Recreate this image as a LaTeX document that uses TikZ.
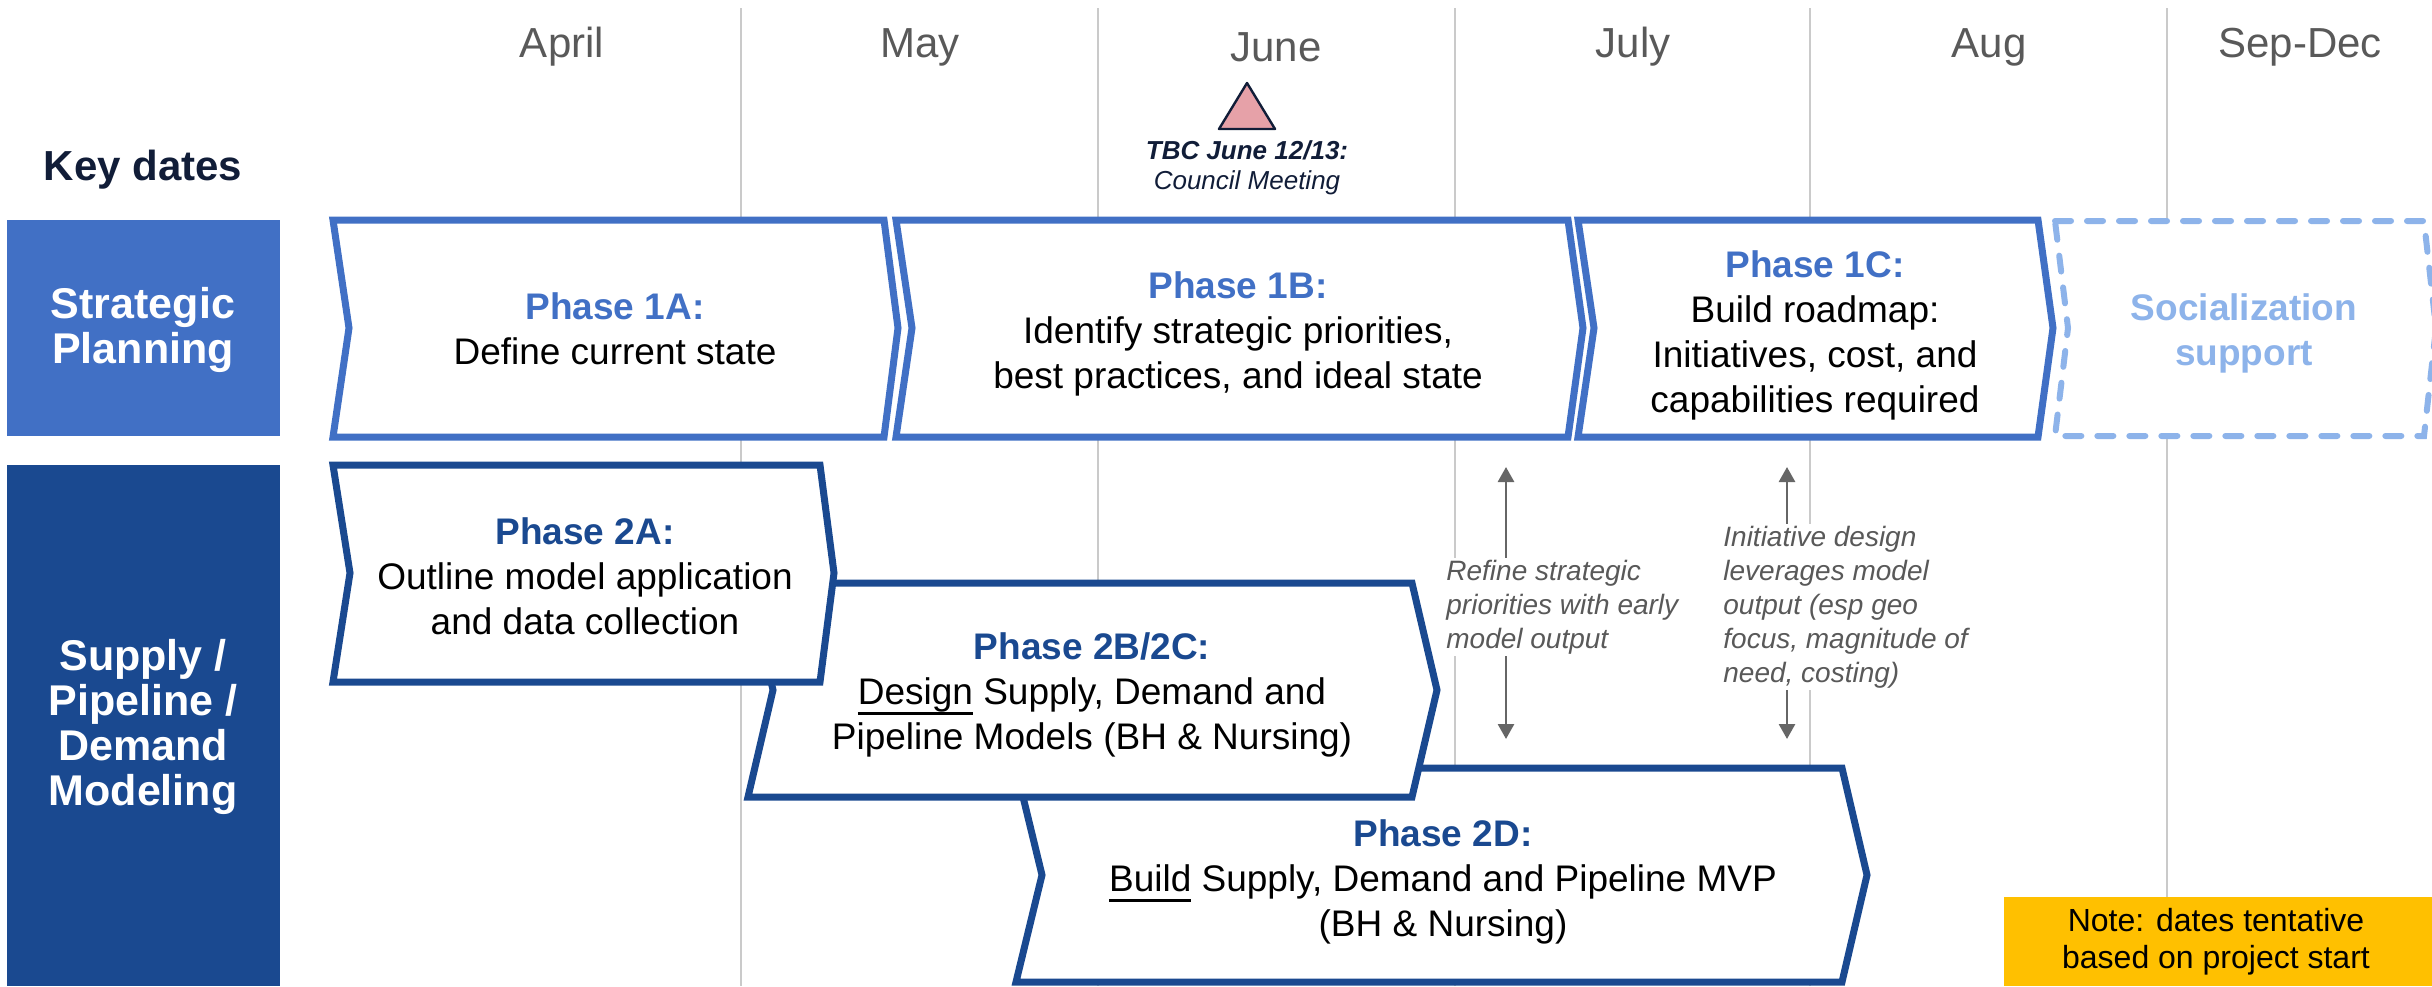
\documentclass[tikz,border=0pt]{standalone}
\usepackage{fontspec}
\setmainfont{Liberation Sans}
\usepackage{xcolor}
\usetikzlibrary{arrows.meta}

\definecolor{stratblue}{HTML}{4170C5}
\definecolor{modelblue}{HTML}{1A4990}
\definecolor{sociallight}{HTML}{8DB3EA}
\definecolor{monthgray}{HTML}{595959}
\definecolor{gridgray}{HTML}{CACACA}
\definecolor{keynavy}{HTML}{111D38}
\definecolor{milestone}{HTML}{E6A1A8}
\definecolor{notegold}{HTML}{FFC000}
\definecolor{arrowgray}{HTML}{666666}

% thick underline as in the slide
\newcommand{\heavyul}[1]{\setbox0\hbox{#1}\rlap{\rule[-5pt]{\wd0}{1.4pt}}\box0\relax}

\begin{document}
\begin{tikzpicture}[x=0.5pt,y=0.5pt,yscale=-1,xscale=1,
  month/.style={text=monthgray,font=\fontsize{21}{25}\selectfont},
  rowhead/.style={text=white,align=center,font=\bfseries\fontsize{21.5}{22.5}\selectfont},
  stratchev/.style={draw=stratblue,fill=white,line width=3.5pt},
  modelchev/.style={draw=modelblue,fill=white,line width=3.5pt},
  socialchev/.style={draw=sociallight,fill=white,line width=3pt,line cap=round,dash pattern=on 8pt off 8pt},
  phasetext/.style={align=center,font=\fontsize{18.5}{22.5}\selectfont},
  sidenote/.style={align=left,text=monthgray,fill=white,inner xsep=0pt,inner ysep=1pt,font=\itshape\fontsize{14}{17}\selectfont},
  gridline/.style={draw=gridgray,line width=1pt},
  linkarrow/.style={draw=arrowgray,line width=1.4pt,-{Triangle[length=7.5pt,width=8pt]}}]
\useasboundingbox (0,0) rectangle (2432,986);

%Straight Lines: month grid
\foreach \gx in {741,1098,1455,1810,2167}
  \draw [gridline] (\gx,8) -- (\gx,986) ;

% Text Node: months
\node [month] (april) at (562,47) {April};
\node [month] (may) at (920,47) {May};
\node [month] (june) at (1276,47) {June};
\node [month] (july) at (1633,47) {July};
\node [month] (aug) at (1989,47) {Aug};
\node [month] (sepdec) at (2300,47) {Sep-Dec};

% Text Node
\node [text=keynavy,font=\bfseries\fontsize{21}{24}\selectfont] (keydates) at (143,170) {Key dates};

%Shape: Triangle (milestone)
\draw [draw=keynavy,fill=milestone,line width=1.2pt,line join=round] (1247,83) -- (1275,129) -- (1219,129) -- cycle ;
% Text Node
\node [text=keynavy,font=\bfseries\itshape\fontsize{13}{16}\selectfont] (tbc) at (1247,150) {TBC June 12/13:};
\node [text=keynavy,font=\itshape\fontsize{13}{16}\selectfont] (council) at (1247,183) {Council Meeting};

%Shape: Rectangle (row headers)
\fill [stratblue] (7,220) rectangle (280,436) ;
\fill [modelblue] (7,465) rectangle (280,986) ;
\node [rowhead] (strategic) at (143,330) {Strategic\\Planning};
\node [rowhead] (supply) at (143,727) {Supply /\\Pipeline /\\Demand\\Modeling};

%Shape: Chevrons, strategic planning
\draw [stratchev] (333,220) -- (884,220) -- (898,328) -- (884,437) -- (333,437) -- (349,328) -- cycle ;
\draw [stratchev] (896,220) -- (1568,220) -- (1583,328) -- (1568,437) -- (896,437) -- (912,328) -- cycle ;
\draw [stratchev] (1578,220) -- (2038,220) -- (2053,328) -- (2038,437) -- (1578,437) -- (1594,328) -- cycle ;
\draw [socialchev] (2055,221) -- (2424,221) -- (2436,328) -- (2424,436) -- (2055,436) -- (2068,328) -- cycle ;

% Text Node
\node [phasetext] (phaseoneA) at (615,329) {\textcolor{stratblue}{\textbf{Phase 1A:}}\\Define current state};
\node [phasetext] (phaseoneB) at (1238,334) {\textcolor{stratblue}{\textbf{Phase 1B:}}\\Identify strategic priorities,\\best practices, and ideal state};
\node [phasetext] (phaseoneC) at (1815,335) {\textcolor{stratblue}{\textbf{Phase 1C:}}\\Build roadmap:\\Initiatives, cost, and\\capabilities required};
\node [phasetext,text=sociallight,font=\bfseries\fontsize{18.5}{22.5}\selectfont] (social) at (2244,333) {Socialization\\support};

%Shape: Chevrons, modeling
\draw [modelchev] (1016,768) -- (1842,768) -- (1867,875) -- (1842,982) -- (1016,982) -- (1042,875) -- cycle ;
\draw [modelchev] (748,583) -- (1412,583) -- (1437,690) -- (1412,797) -- (748,797) -- (773,690) -- cycle ;
\draw [modelchev] (333,465) -- (820,465) -- (834,573) -- (820,682) -- (333,682) -- (350,573) -- cycle ;

% Text Node
\node [phasetext] (phasetwoA) at (585,576) {\textcolor{modelblue}{\textbf{Phase 2A:}}\\Outline model application\\and data collection};
\node [phasetext] (phasetwoB) at (1092,695) {\textcolor{modelblue}{\textbf{Phase 2B/2C:}}\\\heavyul{Design} Supply, Demand and\\Pipeline Models (BH \& Nursing)};
\node [phasetext] (phasetwoD) at (1443,882) {\textcolor{modelblue}{\textbf{Phase 2D:}}\\\heavyul{Build} Supply, Demand and Pipeline MVP\\(BH \& Nursing)};

% Text Node: side notes
\node [sidenote,anchor=west] (refine) at (1446,607) {Refine strategic\\priorities with early\\model output};
\node [sidenote,anchor=west] (initiative) at (1723,607) {Initiative design\\leverages model\\output (esp geo\\focus, magnitude of\\need, costing)};

%Straight Lines: links between rows
\coordinate (refineup) at (1506,467);
\coordinate (refinedown) at (1506,739);
\coordinate (initup) at (1787,467);
\coordinate (initdown) at (1787,739);
\draw [linkarrow] (refine.north -| refineup) -- (refineup) ;
\draw [linkarrow] (refine.south -| refinedown) -- (refinedown) ;
\draw [linkarrow] (initiative.north -| initup) -- (initup) ;
\draw [linkarrow] (initiative.south -| initdown) -- (initdown) ;

%Shape: Rectangle (note)
\fill [notegold] (2004,897) rectangle (2432,986) ;
\node [align=center,font=\fontsize{16}{18.5}\selectfont] (note) at (2216,942) {Note: dates tentative\\based on project start};
\end{tikzpicture}
\end{document}
